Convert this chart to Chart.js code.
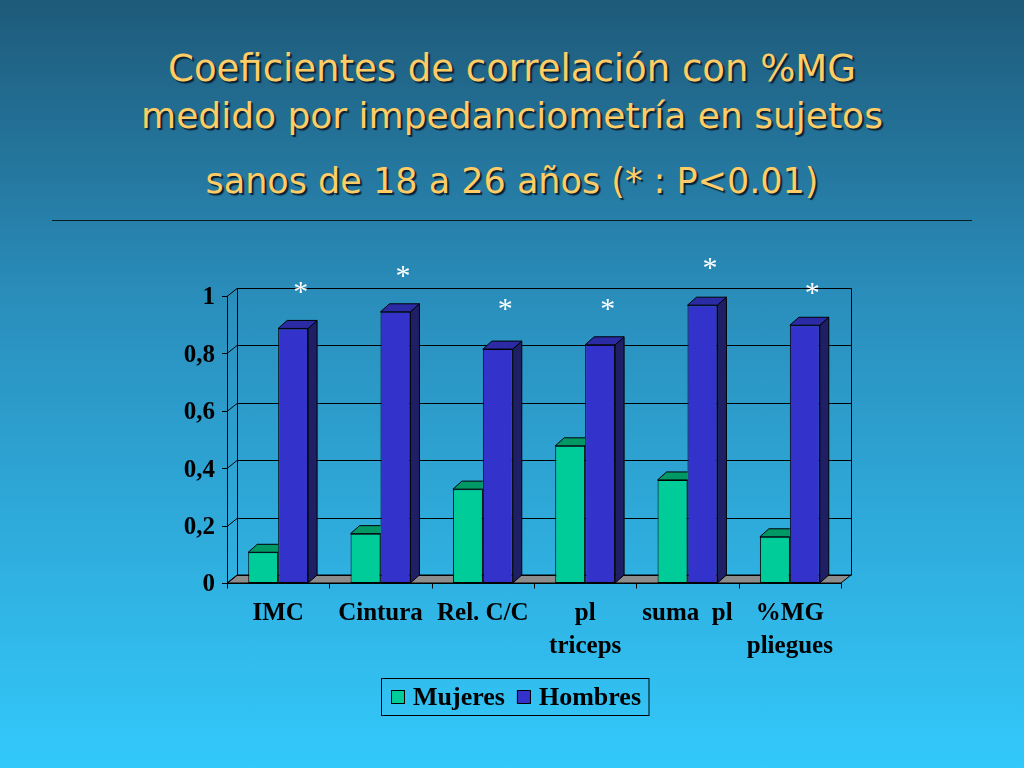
<!DOCTYPE html>
<html>
<head>
<meta charset="utf-8">
<script src="https://cdn.jsdelivr.net/npm/chart.js@4.4.1/dist/chart.umd.min.js"></script>
<style>
html,body{margin:0;padding:0;width:1024px;height:768px;overflow:hidden;}
body{position:relative;background:linear-gradient(to bottom,#1e5a7a 0%,#2a8fbd 40%,#33c9fb 100%);}
.t{position:absolute;left:0;width:1024px;text-align:center;color:#ffcc66;font-family:"DejaVu Sans",sans-serif;line-height:44px;height:44px;white-space:pre;text-shadow:2px 2px 1px #0b2233;}
#rule{position:absolute;left:52px;top:220px;width:920px;height:1px;background:#0a1a26;}
canvas{position:absolute;left:0;top:0;}
</style>
</head>
<body>
<div class="t" style="top:47px;font-size:37px">Coeficientes de correlación con %MG</div>
<div class="t" style="top:94px;font-size:36px">medido por impedanciometría en sujetos</div>
<div class="t" style="top:159px;font-size:35px">sanos de 18 a 26 años (* : P&lt;0.01)</div>
<div id="rule"></div>
<canvas id="c" width="1024" height="768"></canvas>
<script>
// ---- data ----
const categories = ['IMC', 'Cintura', 'Rel. C/C', ['pl', 'triceps'], 'suma  pl', ['%MG', 'pliegues']];
const mujeres = [0.107, 0.172, 0.327, 0.478, 0.359, 0.161];
const hombres = [0.887, 0.945, 0.815, 0.830, 0.968, 0.898];
const starMarks = ['*', '*', '*', '*', '*', '*'];
const starLevels = [1.035, 1.091, 0.974, 0.974, 1.120, 1.033];
const yTicks = [0, 0.2, 0.4, 0.6, 0.8, 1];
const yTickLabels = ['0', '0,2', '0,4', '0,6', '0,8', '1'];
const seriesNames = ['Mujeres', 'Hombres'];

// ---- styles ----
const FRONT = ['#00cc99', '#3333cc'];
const TOP = ['#009966', '#2b2ba6'];
const SIDE = ['#006644', '#1f1f66'];
const DX = 9, DY = 8;   // bar depth
const WX = 10, WY = 8;  // wall depth
const FONT = '"Liberation Serif", "Times New Roman", serif';

const frame = {
  id: 'frame',
  beforeDatasetsDraw(chart) {
    const {ctx, chartArea: a, scales: {x, y}} = chart;
    ctx.save();
    ctx.lineWidth = 1;
    ctx.strokeStyle = '#000';
    // floor
    ctx.fillStyle = '#8c8c8c';
    ctx.beginPath();
    ctx.moveTo(a.left, a.bottom); ctx.lineTo(a.right, a.bottom);
    ctx.lineTo(a.right + WX, a.bottom - WY); ctx.lineTo(a.left + WX, a.bottom - WY);
    ctx.closePath(); ctx.fill(); ctx.stroke();
    // grid lines on side + back wall, with left ticks
    yTicks.forEach(v => {
      const py = Math.round(y.getPixelForValue(v)) + 0.5;
      ctx.beginPath();
      ctx.moveTo(a.left - 5, py); ctx.lineTo(a.left, py);
      ctx.lineTo(a.left + WX, py - WY); ctx.lineTo(a.right + WX, py - WY);
      ctx.stroke();
    });
    const L = Math.round(a.left) + 0.5, R = Math.round(a.right) + 0.5;
    const T = Math.round(a.top) + 0.5, B = Math.round(a.bottom) + 0.5;
    ctx.beginPath();
    ctx.moveTo(L, T); ctx.lineTo(L, B);                       // front left axis
    ctx.moveTo(L + WX, T - WY); ctx.lineTo(L + WX, B - WY);   // back left edge
    ctx.moveTo(L + WX, T - WY); ctx.lineTo(R + WX, T - WY);   // back top edge
    ctx.moveTo(R + WX, T - WY); ctx.lineTo(R + WX, B - WY);   // back right edge
    ctx.moveTo(L, B); ctx.lineTo(R, B);
    ctx.stroke();
    // category ticks
    const n = categories.length;
    ctx.beginPath();
    for (let i = 0; i <= n; i++) {
      let px;
      if (i === 0) px = a.left; else if (i === n) px = a.right;
      else px = (x.getPixelForValue(i - 1) + x.getPixelForValue(i)) / 2;
      px = Math.round(px) + 0.5;
      ctx.moveTo(px, B); ctx.lineTo(px, B + 5);
    }
    ctx.stroke();
    ctx.restore();
  },
  afterDatasetDraw(chart, args) {
    const ctx = chart.ctx, idx = args.index;
    args.meta.data.forEach(bar => {
      const p = bar.getProps(['x', 'y', 'base', 'width'], true);
      const L = p.x - p.width / 2, R = p.x + p.width / 2;
      ctx.save();
      ctx.lineWidth = 1; ctx.strokeStyle = '#000';
      if (idx === 0) { ctx.beginPath(); ctx.rect(0, 0, R, chart.height); ctx.clip(); }
      ctx.fillStyle = SIDE[idx];
      ctx.beginPath();
      ctx.moveTo(R, p.y); ctx.lineTo(R + DX, p.y - DY); ctx.lineTo(R + DX, p.base - DY); ctx.lineTo(R, p.base);
      ctx.closePath(); ctx.fill(); ctx.stroke();
      ctx.fillStyle = TOP[idx];
      ctx.beginPath();
      ctx.moveTo(L, p.y); ctx.lineTo(R, p.y); ctx.lineTo(R + DX, p.y - DY); ctx.lineTo(L + DX, p.y - DY);
      ctx.closePath(); ctx.fill(); ctx.stroke();
      ctx.restore();
    });
  },
  afterDraw(chart) {
    const {ctx, scales: {y}} = chart;
    ctx.save();
    // significance stars
    const meta = chart.getDatasetMeta(1);
    ctx.fillStyle = '#ffffff';
    ctx.font = '30px ' + FONT;
    ctx.textAlign = 'center';
    ctx.textBaseline = 'alphabetic';
    starMarks.forEach((s, i) => {
      const bx = meta.data[i].x + 7.5;
      const by = y.getPixelForValue(starLevels[i]);
      ctx.fillText(s, bx, by + 15);
    });
    // legend
    ctx.font = 'bold 26px ' + FONT;
    ctx.textAlign = 'left';
    ctx.textBaseline = 'middle';
    const boxL = 381.5, boxT = 678.5, boxH = 37;
    let cx = 391;
    const cy = boxT + boxH / 2;
    seriesNames.forEach((nm, i) => {
      ctx.fillStyle = FRONT[i];
      ctx.fillRect(cx, cy - 7, 14, 14);
      ctx.strokeStyle = '#000'; ctx.lineWidth = 1;
      ctx.strokeRect(cx + 0.5, cy - 6.5, 13, 13);
      ctx.fillStyle = '#000';
      ctx.fillText(nm, cx + 22, cy + 1);
      cx += 22 + ctx.measureText(nm).width + 12;
    });
    ctx.strokeStyle = '#000'; ctx.lineWidth = 1;
    ctx.strokeRect(boxL, boxT, cx - 12 + 8 - boxL, boxH);
    ctx.restore();
  }
};

new Chart(document.getElementById('c'), {
  type: 'bar',
  data: {
    labels: categories,
    datasets: [
      {label: seriesNames[0], data: mujeres, backgroundColor: FRONT[0], borderColor: '#000', borderWidth: 1, borderSkipped: false},
      {label: seriesNames[1], data: hombres, backgroundColor: FRONT[1], borderColor: '#000', borderWidth: 1, borderSkipped: false}
    ]
  },
  options: {
    responsive: false,
    animation: false,
    events: [],
    categoryPercentage: 0.585,
    barPercentage: 1.0,
    layout: {padding: {left: 0, right: 183, top: 296, bottom: 85}},
    plugins: {legend: {display: false}, tooltip: {enabled: false}, title: {display: false}},
    scales: {
      x: {
        grid: {display: false, drawTicks: false},
        border: {display: false},
        ticks: {color: '#000', padding: 14, maxRotation: 0, autoSkip: false,
          font: {family: FONT, size: 25, weight: 'bold', lineHeight: 1.32}},
        afterFit(s) { s.height = 100; }
      },
      y: {
        min: 0, max: 1,
        afterBuildTicks(s) { s.ticks = yTicks.map(v => ({value: v})); },
        grid: {display: false, drawTicks: false},
        border: {display: false},
        ticks: {color: '#000', padding: 12, labelOffset: 2, callback: (v, i) => yTickLabels[i],
          font: {family: FONT, size: 25, weight: 'bold'}},
        afterFit(s) { s.width = 227; }
      }
    }
  },
  plugins: [frame]
});
</script>
</body>
</html>
